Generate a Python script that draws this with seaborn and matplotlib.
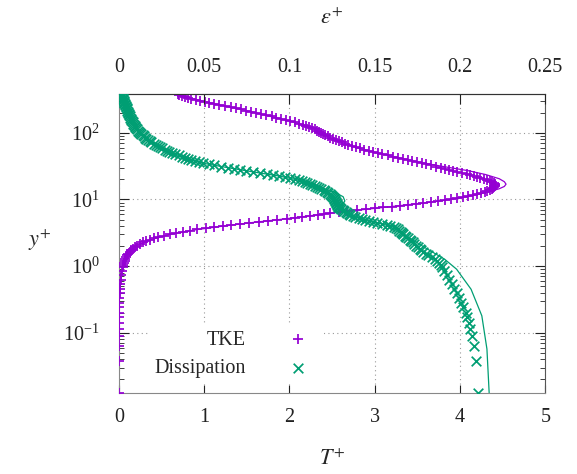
import matplotlib
matplotlib.use('Agg')
import matplotlib.pyplot as plt
import numpy as np
import seaborn as sns
from matplotlib.ticker import LogLocator, NullFormatter

# wall distance of the sampled points (shared by both marker series)
y_plus = [0.0126, 0.038, 0.063, 0.088, 0.114, 0.14, 0.17, 0.2, 0.24, 0.28, 0.33, 0.39, 0.46, 0.54, 0.63, 0.73, 0.85, 0.98,
          1.05, 1.12, 1.2, 1.28, 1.36, 1.45, 1.54, 1.63, 1.73, 1.83,
          1.93, 2.04, 2.15, 2.27, 2.38, 2.5, 2.62, 2.75, 2.87, 3.0,
          3.13, 3.27, 3.41, 3.55, 3.7, 3.85, 4.0, 4.15, 4.31, 4.47,
          4.63, 4.8, 4.97, 5.15, 5.32, 5.5, 5.7, 5.9, 6.1, 6.3,
          6.5, 6.7, 6.92, 7.15, 7.37, 7.6, 7.85, 8.1, 8.35, 8.6,
          8.9, 9.2, 9.5, 9.8, 10.15, 10.5, 10.85, 11.2, 11.6, 12.0,
          12.45, 12.9, 13.35, 13.8, 14.3, 14.8, 15.35, 15.9, 16.45, 17.0,
          17.6, 18.2, 18.85, 19.5, 20.25, 21.0, 21.75, 22.5, 23.25, 24.0,
          25.0, 26.0, 27.0, 28.0, 29.0, 30.0, 31.2, 32.5, 33.7, 35.0,
          36.5, 38.0, 39.5, 41.0, 42.5, 44.0, 46.0, 48.0, 50.0, 52.0,
          54.0, 56.0, 58.5, 61.0, 63.5, 66.0, 69.0, 72.0, 75.0, 78.0,
          81.5, 85.0, 88.5, 92.0, 96.0, 100.0, 104.0, 108.0, 112.5, 117.0,
          122.0, 127.0, 132.5, 138.0, 144.0, 150.0, 156.5, 163.0, 170.0, 177.0,
          184.5, 192.0, 200.0, 208.0, 216.5, 225.0, 234.0, 243.0, 252.5, 262.0,
          272.0, 282.0, 292.5, 303.0, 314.0, 325.0, 336.5, 348.0, 360.0, 372.0, 384.0]

# TKE (bottom axis, T+)
tke = [0.0, 0.0001, 0.0002, 0.0004, 0.0007, 0.001, 0.0015, 0.002, 0.003, 0.004, 0.006, 0.008, 0.011, 0.015, 0.02, 0.026, 0.035, 0.046,
       0.053, 0.06, 0.068, 0.077, 0.087, 0.098, 0.111, 0.125, 0.142, 0.16,
       0.184, 0.21, 0.243, 0.28, 0.323, 0.37, 0.413, 0.46, 0.527, 0.6,
       0.673, 0.75, 0.833, 0.92, 1.02, 1.12, 1.22, 1.32, 1.425, 1.53,
       1.64, 1.75, 1.86, 1.97, 2.06, 2.15, 2.24, 2.33, 2.405, 2.48,
       2.58, 2.68, 2.79, 2.9, 3.0, 3.1, 3.2, 3.3, 3.39, 3.48,
       3.57, 3.66, 3.74, 3.82, 3.9, 3.97, 4.03, 4.09, 4.15, 4.2,
       4.25, 4.29, 4.32, 4.35, 4.37, 4.39, 4.4, 4.41, 4.415, 4.41,
       4.4, 4.38, 4.35, 4.32, 4.28, 4.24, 4.2, 4.16, 4.12, 4.08,
       4.025, 3.97, 3.92, 3.87, 3.825, 3.78, 3.72, 3.66, 3.605, 3.55,
       3.495, 3.44, 3.385, 3.33, 3.275, 3.22, 3.155, 3.09, 3.035, 2.98,
       2.93, 2.88, 2.83, 2.78, 2.735, 2.69, 2.655, 2.62, 2.585, 2.55,
       2.515, 2.48, 2.45, 2.42, 2.395, 2.37, 2.345, 2.32, 2.295, 2.27,
       2.235, 2.2, 2.155, 2.11, 2.06, 2.01, 1.955, 1.9, 1.845, 1.79,
       1.73, 1.67, 1.61, 1.55, 1.49, 1.43, 1.37, 1.31, 1.245, 1.18,
       1.12, 1.06, 1.005, 0.95, 0.9, 0.85, 0.81, 0.77, 0.74, 0.71, 0.69]

# dissipation (top axis, eps+)
eps = [0.2103, 0.2095, 0.2083, 0.2069, 0.2059, 0.2052, 0.2043, 0.2033, 0.2019, 0.2008, 0.1995, 0.1981, 0.1967, 0.1952, 0.1937, 0.1922, 0.1905, 0.1893,
       0.1886, 0.1878, 0.1867, 0.1855, 0.1835, 0.1815, 0.1799, 0.1783, 0.1774, 0.1765,
       0.1755, 0.1745, 0.1733, 0.1722, 0.1713, 0.1705, 0.1695, 0.1685, 0.1676, 0.1668,
       0.166, 0.1652, 0.1643, 0.1635, 0.1624, 0.1612, 0.1592, 0.157, 0.1543, 0.1515,
       0.149, 0.1465, 0.1445, 0.1425, 0.1405, 0.1385, 0.137, 0.1358, 0.1348, 0.1338,
       0.1329, 0.132, 0.1312, 0.1305, 0.1298, 0.1292, 0.1287, 0.1283, 0.128, 0.1278,
       0.1275, 0.1273, 0.127, 0.1268, 0.1264, 0.126, 0.1255, 0.125, 0.1244, 0.1237,
       0.1229, 0.122, 0.121, 0.12, 0.1188, 0.1175, 0.1162, 0.1148, 0.1134, 0.112,
       0.1105, 0.109, 0.1073, 0.1055, 0.103, 0.1005, 0.0973, 0.094, 0.0905, 0.087,
       0.0828, 0.0785, 0.0748, 0.071, 0.0675, 0.064, 0.06, 0.056, 0.0528, 0.0495,
       0.047, 0.0445, 0.0425, 0.0405, 0.0388, 0.037, 0.035, 0.033, 0.0312, 0.0295,
       0.0282, 0.0268, 0.0254, 0.024, 0.0229, 0.0218, 0.0204, 0.019, 0.018, 0.017,
       0.0161, 0.0153, 0.0146, 0.0139, 0.0132, 0.0125, 0.0119, 0.0113, 0.0107, 0.0102,
       0.0097, 0.0093, 0.0089, 0.0085, 0.0081, 0.0078, 0.0074, 0.0071, 0.0068, 0.0065,
       0.0062, 0.0059, 0.0056, 0.0053, 0.005, 0.0048, 0.0045, 0.0043, 0.004, 0.0038,
       0.0035, 0.0033, 0.0031, 0.0029, 0.0027, 0.0025, 0.0023, 0.0021, 0.0019, 0.0018, 0.0016]

# reference curves (thin lines)
y_k_ref = [0.0126, 0.1, 0.3, 0.6, 1.0, 1.5, 2.0, 2.5, 3.0, 3.5, 4.0, 4.5, 5.0, 5.5, 6.3, 7.2, 8.1, 9.2, 10.5, 12.0,
           13.3, 14.5, 15.7, 17.0, 18.5, 20.5, 23.7, 27.0, 31.0, 36.0, 42.0, 50.0, 60.0, 75.0, 90.0, 104.0, 125.0, 150.0, 180.0, 221.0,
           260.0, 300.0, 340.0, 372.0]
k_ref = [0.0, 0.0006, 0.005, 0.02, 0.047, 0.1, 0.2, 0.37, 0.6, 0.89, 1.23, 1.56, 1.88, 2.15, 2.5, 2.93, 3.3, 3.68, 4.0, 4.22,
         4.36, 4.46, 4.52, 4.54, 4.52, 4.46, 4.3, 4.1, 3.82, 3.53, 3.29, 3.03, 2.79, 2.57, 2.43, 2.35, 2.22, 2.01, 1.75, 1.46,
         1.2, 0.98, 0.81, 0.71]

y_e_ref = [0.0126, 0.057, 0.18, 0.45, 0.9, 1.27, 1.62, 2.0, 2.5, 3.2, 3.85, 4.47, 5.15, 5.62, 6.3, 7.2, 8.3, 9.5, 11.0, 12.7,
           14.0, 16.2, 19.5, 22.5, 26.0, 30.0, 35.0, 41.0, 48.0, 56.0, 66.0, 78.0, 92.0, 108.0, 127.0, 150.0, 177.0, 208.0, 243.0, 282.0,
           325.0, 372.0]
eps_ref = [0.2171, 0.2158, 0.2128, 0.2065, 0.198, 0.191, 0.184, 0.178, 0.172, 0.1655, 0.1612, 0.1515, 0.1425, 0.1375, 0.134, 0.1315, 0.131, 0.1325, 0.1315, 0.127,
           0.122, 0.1155, 0.1055, 0.094, 0.0785, 0.064, 0.0495, 0.0405, 0.033, 0.0268, 0.0218, 0.017, 0.0139, 0.0113, 0.0093, 0.0078, 0.0065, 0.0053, 0.0043, 0.0033,
           0.0025, 0.0018]

t_ticks = [0, 1, 2, 3, 4, 5]
eps_ticks = [0, 0.05, 0.1, 0.15, 0.2, 0.25]
eps_ticklabels = ['0', '0.05', '0.1', '0.15', '0.2', '0.25']

sns.set_style('ticks')
plt.rcParams['font.family'] = ['Liberation Serif', 'DejaVu Serif']
plt.rcParams['mathtext.fontset'] = 'stix'

purple = '#9400d3'
green = '#009e73'
fs = 14.5

fig, ax = plt.subplots(figsize=(5.77, 4.74), dpi=100)
fig.subplots_adjust(left=0.206, right=0.945, top=0.802, bottom=0.171)
ax2 = ax.twiny()

sns.lineplot(x=k_ref, y=y_k_ref, sort=False, estimator=None, color=purple, lw=0.9, ax=ax)
sns.scatterplot(x=tke, y=y_plus, marker='+', s=58, linewidth=1.25, color=purple, label='TKE', ax=ax, zorder=3)
sns.lineplot(x=eps_ref, y=y_e_ref, sort=False, estimator=None, color=green, lw=0.9, ax=ax2)
sns.scatterplot(x=eps, y=y_plus, marker='x', s=48, linewidth=1.25, color=green, label='Dissipation', ax=ax2, zorder=3)

for a in (ax, ax2):
    if a.get_legend() is not None:
        a.get_legend().remove()

ax.set_yscale('log')
ax.set_ylim(0.0125, 385)
ax.set_xlim(0, 5)
ax2.set_xlim(0, 0.25)

ax.set_xticks(t_ticks)
ax.set_xticklabels([str(t) for t in t_ticks])
ax2.set_xticks(eps_ticks)
ax2.set_xticklabels(eps_ticklabels)
ax.yaxis.set_major_locator(LogLocator(base=10))
ax.yaxis.set_minor_locator(LogLocator(base=10, subs=np.arange(2, 10)))
ax.yaxis.set_minor_formatter(NullFormatter())

ax.tick_params(axis='both', which='both', direction='in', colors='#222222', labelsize=fs)
ax.tick_params(axis='x', which='major', length=6, pad=11, top=False, bottom=True)
ax.tick_params(axis='y', which='major', length=7, pad=14, left=True, right=True)
ax.tick_params(axis='y', which='minor', length=3.5, left=True, right=True)
ax2.tick_params(axis='x', which='major', direction='in', length=7, pad=12, top=True, bottom=False,
                colors='#222222', labelsize=fs)

ax.grid(True, which='major', linestyle=(0, (1, 3)), color='#999999', lw=0.8)

for side in ['left', 'bottom']:
    ax.spines[side].set_color('#888888')
for side in ['right', 'top']:
    ax.spines[side].set_color('#555555')
for side in ['left', 'bottom', 'right']:
    ax2.spines[side].set_visible(False)
ax2.spines['top'].set_color('#333333')

ax.set_xlabel(r'$T^{+}$', fontsize=16, va='center')
ax.xaxis.set_label_coords(0.5, -0.224)
ax2.set_xlabel(r'$\varepsilon^{+}$', fontsize=16, va='center')
ax2.xaxis.set_label_coords(0.5, 1.25)
ax.set_ylabel(r'$y^{+}$', fontsize=16, rotation=0, va='center', ha='center')
ax.yaxis.set_label_coords(-0.185, 0.51)

h1, l1 = ax.get_legend_handles_labels()
h2, l2 = ax2.get_legend_handles_labels()
leg = ax2.legend(h1 + h2, l1 + l2, loc='lower right', bbox_to_anchor=(0.481, 0.03),
                 markerfirst=False, fontsize=fs, handlelength=2, handletextpad=1.6,
                 labelspacing=0.45, frameon=True, facecolor='white', edgecolor='none',
                 framealpha=1, fancybox=False, borderpad=0.3, borderaxespad=0)

fig.savefig('out.png', dpi=100)
